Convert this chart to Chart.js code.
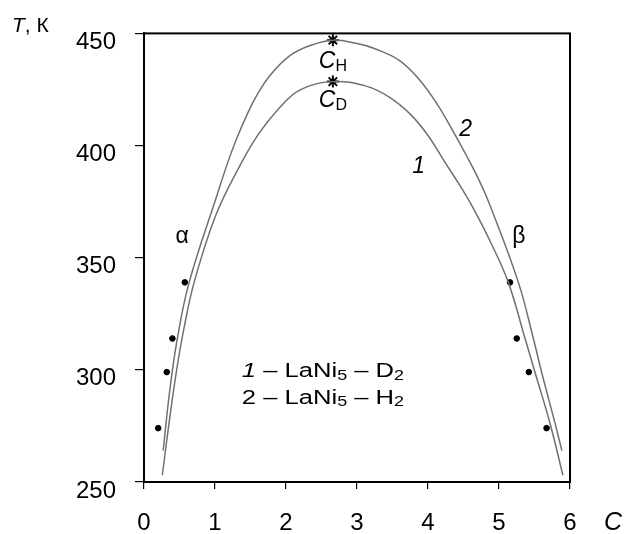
<!DOCTYPE html>
<html>
<head>
<meta charset="utf-8">
<script src="https://cdn.jsdelivr.net/npm/chart.js@4"></script>
<style>
  html, body { margin: 0; padding: 0; background: #fff; }
  #wrap { width: 624px; height: 534px; }
</style>
</head>
<body>
<div id="wrap"><canvas id="phase"></canvas></div>
<script>
// Phase diagram T(C) for LaNi5 hydride / deuteride
const FONT = '"Liberation Sans", Arial, sans-serif';

// curve 2: LaNi5 - H2
const curveH_C = [0.27, 0.36, 0.47, 0.636, 1.035, 1.18, 1.30, 1.44, 1.59, 1.78, 2.05, 2.33, 2.66,
                  3.0, 3.225, 3.60, 3.884, 4.12, 4.36, 4.55, 4.732, 4.873, 5.273, 5.484, 5.603, 5.791, 5.886];
const curveH_T = [264, 290, 314, 339, 378.5, 392.5, 402.7, 413, 422.5, 431.5, 440, 444.5, 447,
                  445.5, 443.5, 437.9, 429.1, 418.9, 406, 395, 383.7, 373.4, 339, 314, 298.6, 276, 264];

// curve 1: LaNi5 - D2
const curveD_C = [0.258, 0.36, 0.46, 0.56, 0.706, 1.0, 1.3, 1.6, 1.9, 2.2, 2.66,
                  3.13, 3.46, 3.75, 4.0, 4.22, 4.449, 4.614, 4.88, 5.131, 5.367, 5.51, 5.72, 5.90];
const curveD_T = [253, 278, 300, 318, 339, 368, 388, 404.5, 416.5, 424.8, 428.5,
                  426.5, 421.5, 414, 404.5, 393.5, 382.2, 373.4, 357, 339, 314, 298.6, 276, 253];

// measured points on the alpha and beta branches
const dotT = [274, 299, 314, 339];
const alphaC = [0.20, 0.32, 0.40, 0.575];
const betaC = [5.67, 5.42, 5.25, 5.155];

// critical points C_H and C_D
const critC = [2.66, 2.66];
const critT = [447, 428.5];

const xTicks = [0, 1, 2, 3, 4, 5, 6];
const yTicks = [250, 300, 350, 400, 450];

const toXY = (xs, ys) => xs.map((x, i) => ({ x: x, y: ys[i] }));

// text drawn in data units: [C, T, segments, size, horizontal stretch]
// segment style: 'n' normal, 'i' italic, 's' subscript
const notes = [
  [0.537, 359.6, [['α', 'n']], 23, 1],
  [5.28, 359.6, [['β', 'n']], 23, 1],
  [3.87, 390.4, [['1', 'i']], 23, 1],
  [4.53, 407.1, [['2', 'i']], 23, 1],
  [2.66, 437.6, [['C', 'i'], ['H', 's']], 23, 1],
  [2.66, 420.0, [['C', 'i'], ['D', 's']], 23, 1],
  [2.52, 299.3, [['1', 'i'], [' – LaNi', 'n'], ['5', 's'], [' – D', 'n'], ['2', 's']], 20, 1.28],
  [2.52, 287.4, [['2', 'n'], [' – LaNi', 'n'], ['5', 's'], [' – H', 'n'], ['2', 's']], 20, 1.28]
];

function segFont(style, size) {
  if (style === 's') return Math.round(size * 0.7) + 'px ' + FONT;
  if (style === 'i') return 'italic ' + size + 'px ' + FONT;
  return size + 'px ' + FONT;
}

function drawRich(ctx, cx, cy, segs, size, stretch) {
  let total = 0;
  segs.forEach(s => { ctx.font = segFont(s[1], size); total += ctx.measureText(s[0]).width; });
  ctx.save();
  ctx.translate(cx, cy);
  ctx.scale(stretch, 1);
  let x = -total / 2;
  ctx.textBaseline = 'middle';
  ctx.textAlign = 'left';
  segs.forEach(s => {
    ctx.font = segFont(s[1], size);
    const dy = s[1] === 's' ? size * 0.22 : 0;
    ctx.fillText(s[0], x, dy);
    x += ctx.measureText(s[0]).width;
  });
  ctx.restore();
}

const framePlugin = {
  id: 'frame',
  afterDatasetsDraw(chart) {
    const ctx = chart.ctx;
    const a = chart.chartArea;
    const sx = chart.scales.x, sy = chart.scales.y;
    ctx.save();
    ctx.strokeStyle = '#000';
    ctx.lineWidth = 2;
    ctx.strokeRect(a.left, a.top, a.right - a.left, a.bottom - a.top);

    ctx.fillStyle = '#000';
    notes.forEach(n => drawRich(ctx, sx.getPixelForValue(n[0]), sy.getPixelForValue(n[1]), n[2], n[3], n[4]));

    // axis titles
    ctx.textBaseline = 'middle';
    ctx.textAlign = 'left';
    ctx.font = 'italic 21px ' + FONT;
    ctx.fillText('T', 12, 26);
    const tw = ctx.measureText('T').width;
    ctx.font = '21px ' + FONT;
    ctx.fillText(', К', 12 + tw, 26);
    ctx.font = 'italic 25px ' + FONT;
    ctx.fillText('C', a.right + 34, 523);
    ctx.restore();
  }
};

new Chart(document.getElementById('phase'), {
  type: 'scatter',
  data: {
    datasets: [
      {
        data: toXY(curveH_C, curveH_T),
        showLine: true,
        borderColor: '#707070',
        borderWidth: 1.5,
        pointRadius: 0,
        tension: 0.4
      },
      {
        data: toXY(curveD_C, curveD_T),
        showLine: true,
        borderColor: '#707070',
        borderWidth: 1.5,
        pointRadius: 0,
        tension: 0.4
      },
      {
        data: toXY(alphaC, dotT),
        pointRadius: 2.8,
        backgroundColor: '#000',
        borderColor: '#000'
      },
      {
        data: toXY(betaC, dotT),
        pointRadius: 2.8,
        backgroundColor: '#000',
        borderColor: '#000'
      },
      {
        data: toXY(critC, critT),
        pointStyle: 'star',
        pointRadius: 6,
        borderWidth: 2,
        borderColor: '#000',
        backgroundColor: '#000'
      }
    ]
  },
  options: {
    responsive: true,
    maintainAspectRatio: false,
    animation: false,
    layout: { padding: { left: 0, right: 54, top: 27, bottom: 0 } },
    plugins: {
      legend: { display: false },
      tooltip: { enabled: false }
    },
    scales: {
      x: {
        type: 'linear',
        min: 0,
        max: 6,
        afterBuildTicks: s => { s.ticks = xTicks.map(v => ({ value: v })); },
        afterFit: s => { s.height = 52; },
        ticks: { color: '#000', font: { size: 24, family: FONT }, padding: 20 },
        grid: { drawOnChartArea: false, tickLength: 7, color: '#000', lineWidth: 1.2 },
        border: { display: true, color: '#000', width: 2 }
      },
      y: {
        min: 250,
        max: 450,
        afterBuildTicks: s => { s.ticks = yTicks.map(v => ({ value: v })); },
        afterFit: s => { s.width = 144; },
        ticks: { color: '#000', font: { size: 24, family: FONT }, padding: 19, labelOffset: 9 },
        grid: { drawOnChartArea: false, tickLength: 9, color: '#000', lineWidth: 1.2 },
        border: { display: true, color: '#000', width: 2 }
      }
    }
  },
  plugins: [framePlugin]
});
</script>
</body>
</html>
